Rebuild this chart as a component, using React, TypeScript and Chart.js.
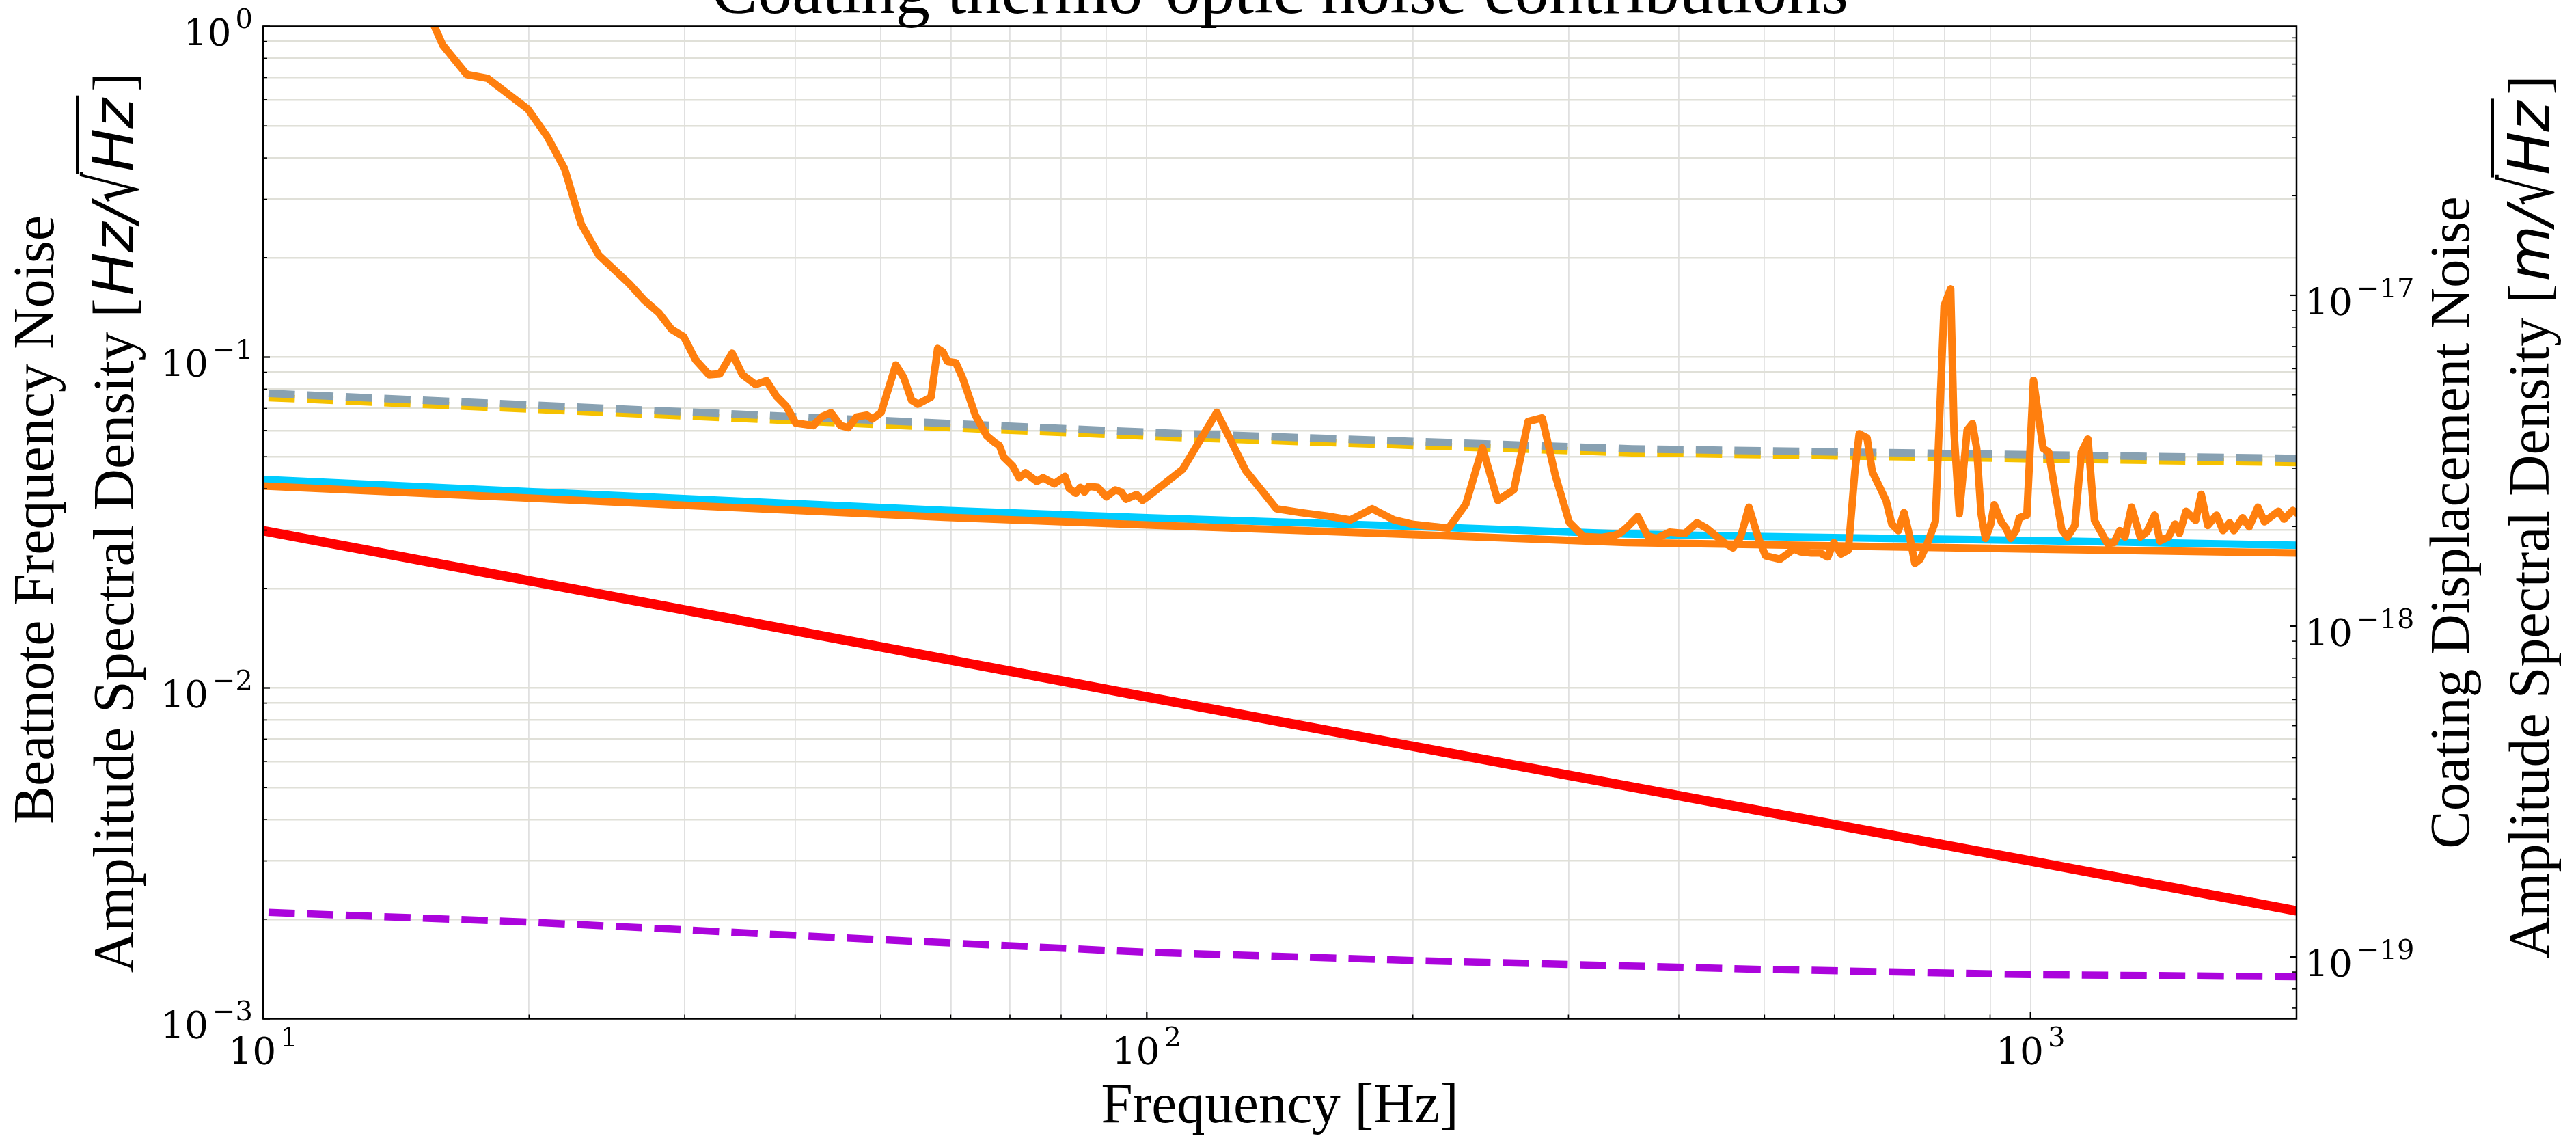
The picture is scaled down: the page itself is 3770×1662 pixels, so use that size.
import React, { useEffect, useRef } from 'react';
import { Chart, registerables } from 'chart.js';

Chart.register(...registerables);

// ---------------- DATA ----------------
// Measured beatnote noise (noisy orange trace)
const measuredFreq = [
  10, 12.5, 15.0, 15.97, 17.0, 17.95, 19.94, 20.97, 21.94, 22.9, 23.98, 25.95, 27.0, 28.04, 29.0, 29.92,
  30.85, 31.96, 32.88, 33.94, 34.86, 36.09, 37.12, 38.11, 39.08, 40.06, 41.93, 42.89, 43.92, 45.03, 45.95,
  46.95, 48.2, 48.9, 50.03, 52.0, 53.08, 54.18, 55.09, 57.0, 57.99, 58.8, 59.5, 60.8, 61.9, 64.0, 65.9,
  67.4, 68.1, 68.9, 70.5, 71.7, 72.9, 75.1, 76.3, 78.6, 80.8, 81.7, 83.1, 84.1, 85.0, 86.0, 88.0, 90.0,
  92.1, 93.6, 94.7, 97.4, 98.9, 100.2, 109.8, 120.0, 129.4, 140.2, 149.2, 159.7, 170.0, 179.9, 190.4,
  200.4, 219.5, 229.6, 239.8, 249.5, 260.2, 270.1, 280.2, 289.9, 300.6, 312.0, 326.6, 337.9, 342.7,
  348.6, 359.4, 368.9, 377.4, 390.5, 406.3, 419.4, 430.0, 450.0, 460.5, 469.9, 480.1, 491.7, 501.3,
  520.4, 530.5, 539.6, 548.9, 564.8, 577.7, 589.6, 599.1, 610.1, 622.1, 632.7, 640.0, 653.1, 662.2,
  675.6, 686.5, 696.7, 708.7, 719.2, 729.1, 739.9, 750.0, 762.9, 780.4, 798.4, 812.1, 819.4, 830.6,
  847.8, 859.4, 869.2, 879.2, 889.3, 901.6, 909.7, 927.5, 935.9, 949.8, 962.8, 971.5, 990.6, 1007.7,
  1033.2, 1048.5, 1066.5, 1084.8, 1101.0, 1122.5, 1141.8, 1161.4, 1181.4, 1208.6, 1222.4, 1243.4,
  1261.9, 1279.1, 1301.1, 1331.0, 1353.9, 1381.9, 1400.8, 1432.8, 1457.4, 1474.2, 1499.6, 1537.4,
  1560.2, 1587.0, 1623.6, 1651.5, 1679.9, 1699.0, 1738.1, 1768.0, 1808.5, 1839.6, 1881.9, 1907.7,
  1936.0, 1980.6, 2000,
];
const measuredASD = [
  3.5, 2.2, 1.28, 0.877, 0.715, 0.696, 0.562, 0.464, 0.371, 0.253, 0.2035, 0.167, 0.1486, 0.1362, 0.1212, 0.1153,
  0.0982, 0.0885, 0.089, 0.1028, 0.0885, 0.0826, 0.0849, 0.0761, 0.0711, 0.0632, 0.0621, 0.0661, 0.0679, 0.0621, 0.0612,
  0.0659, 0.0668, 0.065, 0.0679, 0.0947, 0.0868, 0.0741, 0.0721, 0.0757, 0.1062, 0.1037, 0.097, 0.0962, 0.0864, 0.0666, 0.0578,
  0.055, 0.0541, 0.0498, 0.0469, 0.0432, 0.0447, 0.0421, 0.0432, 0.0414, 0.0436, 0.0401, 0.0388, 0.0404, 0.0391, 0.0407, 0.0404, 0.0378,
  0.0397, 0.0391, 0.0372, 0.0384, 0.0369, 0.0378, 0.0458, 0.0681, 0.0454, 0.0348, 0.0339, 0.0331, 0.0322, 0.0348, 0.0322,
  0.0312, 0.0304, 0.0359, 0.0532, 0.0369, 0.0397, 0.0639, 0.0655, 0.0439, 0.0317, 0.0287, 0.0285, 0.0289, 0.0293,
  0.0304, 0.033, 0.0288, 0.0283, 0.0296, 0.0293, 0.0316, 0.0304, 0.0275, 0.0265, 0.0286, 0.0352, 0.0286, 0.0251,
  0.0245, 0.0254, 0.0263, 0.0258, 0.0256, 0.0256, 0.0249, 0.0275, 0.0254, 0.0261, 0.045, 0.0586, 0.057, 0.045,
  0.0403, 0.0368, 0.0313, 0.0299, 0.0339, 0.0291, 0.0238, 0.0245, 0.027, 0.0318, 0.1429, 0.1609, 0.0591, 0.0336,
  0.0602, 0.063, 0.053, 0.0336, 0.0283, 0.0313, 0.0358, 0.0316, 0.0307, 0.0283, 0.0299, 0.0327, 0.0333, 0.0851,
  0.053, 0.0516, 0.0392, 0.0301, 0.0286, 0.031, 0.0516, 0.0565, 0.0321, 0.0288, 0.0273, 0.0275,
  0.0299, 0.0286, 0.0352, 0.0286, 0.0296, 0.0333, 0.0278, 0.0286, 0.0313, 0.0293, 0.0342, 0.0321,
  0.0385, 0.031, 0.0333, 0.0299, 0.0316, 0.0299, 0.0327, 0.0307, 0.0352, 0.0318, 0.0333, 0.0342,
  0.0324, 0.0344, 0.0338,
];

// Grey dashed
const greyFreq = [10, 20, 55, 106, 200, 354, 1000, 2000];
const greyASD = [0.0778, 0.0717, 0.0636, 0.0589, 0.0556, 0.0528, 0.0507, 0.0494];
// Yellow dashed
const yellowFreq = [10, 20, 55, 106, 200, 354, 1000, 2000];
const yellowASD = [0.0756, 0.0697, 0.0618, 0.0573, 0.0541, 0.0514, 0.0493, 0.048];
// Cyan solid
const cyanFreq = [10, 20, 59, 100, 200, 349, 500, 1000, 2000];
const cyanASD = [0.0427, 0.0392, 0.0344, 0.0327, 0.0308, 0.0292, 0.0287, 0.0279, 0.027];
// Smooth orange solid
const orangeFreq = [10, 20, 59, 100, 200, 349, 500, 1000, 2000];
const orangeASD = [0.0408, 0.0375, 0.0328, 0.0311, 0.0291, 0.0275, 0.0271, 0.0263, 0.0256];
// Red solid
const redFreq = [10, 100, 1000, 2000];
const redASD = [0.0299, 0.0094, 0.003, 0.00212];
// Purple dashed
const purpleFreq = [10, 20, 51, 100, 200, 500, 1000, 2000];
const purpleASD = [0.0021, 0.00196, 0.00173, 0.00159, 0.0015, 0.00141, 0.00136, 0.00134];

// Axes
const xRange = [10, 2000];
const yRange = [1e-3, 1];
const y2Range = [6.5e-20, 6.5e-17];
const xMajorTicks = [10, 100, 1000];
const xTickExponents = ['1', '2', '3'];
const yMajorTicks = [1, 0.1, 0.01, 0.001];
const yTickExponents = ['0', '\u22121', '\u22122', '\u22123'];
const y2MajorTicks = [1e-17, 1e-18, 1e-19];
const y2TickExponents = ['\u221217', '\u221218', '\u221219'];

const titleText = 'Coating thermo-optic noise contributions';
const xTitle = 'Frequency [Hz]';
const yTitleLine1 = 'Beatnote Frequency Noise';
const y2TitleLine1 = 'Coating Displacement Noise';
const asdText = 'Amplitude Spectral Density ';

// ---------------- HELPERS ----------------
const SERIF = '"Liberation Serif", "Times New Roman", serif';
const TICKFONT = '"DejaVu Serif", serif';
const MATH = '"DejaVu Sans", sans-serif';

function makeLogTicks(min: number, max: number) {
  const out: { value: number; major: boolean }[] = [];
  const e0 = Math.floor(Math.log10(min));
  const e1 = Math.ceil(Math.log10(max));
  for (let e = e0; e <= e1; e++) {
    for (let m = 1; m <= 9; m++) {
      const v = parseFloat((m * Math.pow(10, e)).toPrecision(10));
      if (v >= min * 0.999999 && v <= max * 1.000001) out.push({ value: v, major: m === 1 });
    }
  }
  return out;
}

const pts = (fs: number[], vs: number[]) => fs.map((f, i) => ({ x: f, y: vs[i] }));

function drawPow(ctx: CanvasRenderingContext2D, sup: string, x: number, baseline: number, align: string) {
  const baseFont = `55px ${TICKFONT}`;
  const supFont = `40px ${TICKFONT}`;
  ctx.font = baseFont;
  const wb = ctx.measureText('10').width;
  ctx.font = supFont;
  const ws = ctx.measureText(sup).width;
  const gap = 6;
  const total = wb + gap + ws;
  const x0 = align === 'left' ? x : align === 'right' ? x - total : x - total / 2;
  ctx.textAlign = 'left';
  ctx.textBaseline = 'alphabetic';
  ctx.font = baseFont;
  ctx.fillText('10', x0, baseline);
  ctx.font = supFont;
  ctx.fillText(sup, x0 + wb + gap, baseline - 26);
}

type Part = { text: string; font: string; over?: boolean; maxW?: number; dy?: number; pre?: number };

function drawRotatedParts(ctx: CanvasRenderingContext2D, baselineX: number, centerY: number, parts: Part[]) {
  const widths = parts.map((p) => {
    ctx.font = p.font;
    const w = ctx.measureText(p.text).width;
    return (p.maxW ? Math.min(w, p.maxW) : w) + (p.pre || 0);
  });
  const total = widths.reduce((a, b) => a + b, 0);
  ctx.save();
  ctx.translate(baselineX, centerY);
  ctx.rotate(-Math.PI / 2);
  ctx.textAlign = 'left';
  ctx.textBaseline = 'alphabetic';
  let x = -total / 2;
  parts.forEach((p, i) => {
    ctx.font = p.font;
    const tx = x + (p.pre || 0);
    if (p.maxW) ctx.fillText(p.text, tx, p.dy || 0, p.maxW);
    else ctx.fillText(p.text, tx, p.dy || 0);
    if (p.over) ctx.fillRect(x - 4, -84, widths[i] + 8, 4);
    x += widths[i];
  });
  ctx.restore();
}

function unitParts(numer: string): Part[] {
  return [
    { text: asdText + '[', font: `84px ${SERIF}` },
    { text: numer + '/', font: `italic 84px ${MATH}`, pre: 4 },
    { text: '\u221A', font: `104px ${MATH}`, maxW: 46, dy: 6 },
    { text: 'Hz', font: `italic 84px ${MATH}`, over: true },
    { text: ']', font: `84px ${SERIF}`, pre: 10 },
  ];
}

const decorPlugin = {
  id: 'decor',
  afterDatasetsDraw(chart: any) {
    const ctx: CanvasRenderingContext2D = chart.ctx;
    const { left, right, top, bottom } = chart.chartArea;
    ctx.save();
    ctx.strokeStyle = '#000';
    const xs = chart.scales.x;
    const ys = chart.scales.y;
    const y2s = chart.scales.y2;
    const tick = (t: any) => {
      ctx.lineWidth = t.major ? 2.2 : 1.6;
      return t.major ? 10 : 6;
    };
    xs.ticks.forEach((t: any) => {
      const p = xs.getPixelForValue(t.value);
      const len = tick(t);
      ctx.beginPath();
      ctx.moveTo(p, bottom);
      ctx.lineTo(p, bottom - len);
      ctx.stroke();
    });
    ys.ticks.forEach((t: any) => {
      const p = ys.getPixelForValue(t.value);
      const len = tick(t);
      ctx.beginPath();
      ctx.moveTo(left, p);
      ctx.lineTo(left + len, p);
      ctx.stroke();
    });
    y2s.ticks.forEach((t: any) => {
      const p = y2s.getPixelForValue(t.value);
      const len = tick(t);
      ctx.beginPath();
      ctx.moveTo(right, p);
      ctx.lineTo(right - len, p);
      ctx.stroke();
    });
    ctx.lineWidth = 2.5;
    ctx.strokeRect(left, top, right - left, bottom - top);
    ctx.restore();
  },
  afterDraw(chart: any) {
    const ctx: CanvasRenderingContext2D = chart.ctx;
    const { left, right, top, bottom } = chart.chartArea;
    const cx = (left + right) / 2;
    const cy = (top + bottom) / 2;
    ctx.save();
    ctx.fillStyle = '#000';
    // tick labels
    xMajorTicks.forEach((v, i) => drawPow(ctx, xTickExponents[i], chart.scales.x.getPixelForValue(v), bottom + 66, 'center'));
    yMajorTicks.forEach((v, i) => drawPow(ctx, yTickExponents[i], left - 15, chart.scales.y.getPixelForValue(v) + 28, 'right'));
    y2MajorTicks.forEach((v, i) => drawPow(ctx, y2TickExponents[i], right + 12, chart.scales.y2.getPixelForValue(v) + 29, 'left'));
    // title
    ctx.textAlign = 'center';
    ctx.textBaseline = 'alphabetic';
    ctx.font = `101px ${SERIF}`;
    ctx.fillText(titleText, cx, 19);
    // x title
    ctx.font = `83px ${SERIF}`;
    ctx.fillText(xTitle, cx, 1642);
    // left titles
    drawRotatedParts(ctx, 78, cy - 4, [{ text: yTitleLine1, font: `84px ${SERIF}` }]);
    drawRotatedParts(ctx, 195, cy, unitParts('Hz'));
    // right titles
    drawRotatedParts(ctx, 3613, cy, [{ text: y2TitleLine1, font: `83px ${SERIF}` }]);
    drawRotatedParts(ctx, 3730, cy - 8, unitParts('m'));
    ctx.restore();
  },
};

export default function App() {
  const ref = useRef<HTMLCanvasElement | null>(null);
  useEffect(() => {
    document.body.style.margin = '0';
    const canvas = ref.current;
    if (!canvas) return;
    const dash = [38.5, 18];
    const dashOffset = 48.5;
    const chart = new Chart(canvas, {
      type: 'line',
      data: {
        datasets: [
          {
            label: 'Measured beatnote noise',
            data: pts(measuredFreq, measuredASD),
            borderColor: '#ff7f0e',
            borderWidth: 11,
            borderJoinStyle: 'round',
            borderCapStyle: 'round',
          },
          {
            label: 'Total (grey)',
            data: pts(greyFreq, greyASD),
            borderColor: '#88a1b2',
            borderWidth: 11,
            borderDash: dash,
            borderDashOffset: dashOffset,
          },
          {
            label: 'Total (yellow)',
            data: pts(yellowFreq, yellowASD),
            borderColor: '#f5c100',
            borderWidth: 11,
            borderDash: dash,
            borderDashOffset: dashOffset,
          },
          {
            label: 'Orange model',
            data: pts(orangeFreq, orangeASD),
            borderColor: '#ff7f0e',
            borderWidth: 11,
          },
          {
            label: 'Cyan model',
            data: pts(cyanFreq, cyanASD),
            borderColor: '#00ccff',
            borderWidth: 11,
          },
          {
            label: 'Purple model',
            data: pts(purpleFreq, purpleASD),
            borderColor: '#ab04dc',
            borderWidth: 10.5,
            borderDash: dash,
            borderDashOffset: dashOffset,
          },
          {
            label: 'Red model',
            data: pts(redFreq, redASD),
            borderColor: '#ff0000',
            borderWidth: 14,
          },
        ].map((d: any) => ({ ...d, pointRadius: 0, tension: 0, fill: false, clip: 0, yAxisID: 'y', xAxisID: 'x' })),
      },
      options: {
        responsive: false,
        maintainAspectRatio: false,
        devicePixelRatio: 1,
        animation: false,
        events: [],
        layout: { padding: { top: 38.5, left: 0, right: 0, bottom: 0 } },
        plugins: { legend: { display: false }, tooltip: { enabled: false }, title: { display: false } },
        scales: {
          x: {
            type: 'logarithmic',
            position: 'bottom',
            min: xRange[0],
            max: xRange[1],
            ticks: { display: false, autoSkip: false },
            grid: { color: '#e0e0e0', lineWidth: 1.8, drawTicks: false, tickLength: 0 },
            border: { display: false },
            afterBuildTicks: (s: any) => {
              s.ticks = makeLogTicks(s.min, s.max);
            },
            afterFit: (s: any) => {
              s.height = 171.5;
            },
          },
          y: {
            type: 'logarithmic',
            position: 'left',
            min: yRange[0],
            max: yRange[1],
            ticks: { display: false, autoSkip: false },
            grid: { color: '#e0e0d8', lineWidth: 2.5, drawTicks: false, tickLength: 0 },
            border: { display: false },
            afterBuildTicks: (s: any) => {
              s.ticks = makeLogTicks(s.min, s.max);
            },
            afterFit: (s: any) => {
              s.width = 385;
            },
          },
          y2: {
            type: 'logarithmic',
            position: 'right',
            min: y2Range[0],
            max: y2Range[1],
            ticks: { display: false, autoSkip: false },
            grid: { display: false, drawTicks: false },
            border: { display: false },
            afterBuildTicks: (s: any) => {
              s.ticks = makeLogTicks(s.min, s.max);
            },
            afterFit: (s: any) => {
              s.width = 409;
            },
          },
        },
      } as any,
      plugins: [decorPlugin as any],
    });
    return () => chart.destroy();
  }, []);
  return (
    <canvas
      ref={ref}
      width={3770}
      height={1662}
      style={{ position: 'fixed', left: 0, top: 0, width: 3770, height: 1662, background: '#fff' }}
    />
  );
}
